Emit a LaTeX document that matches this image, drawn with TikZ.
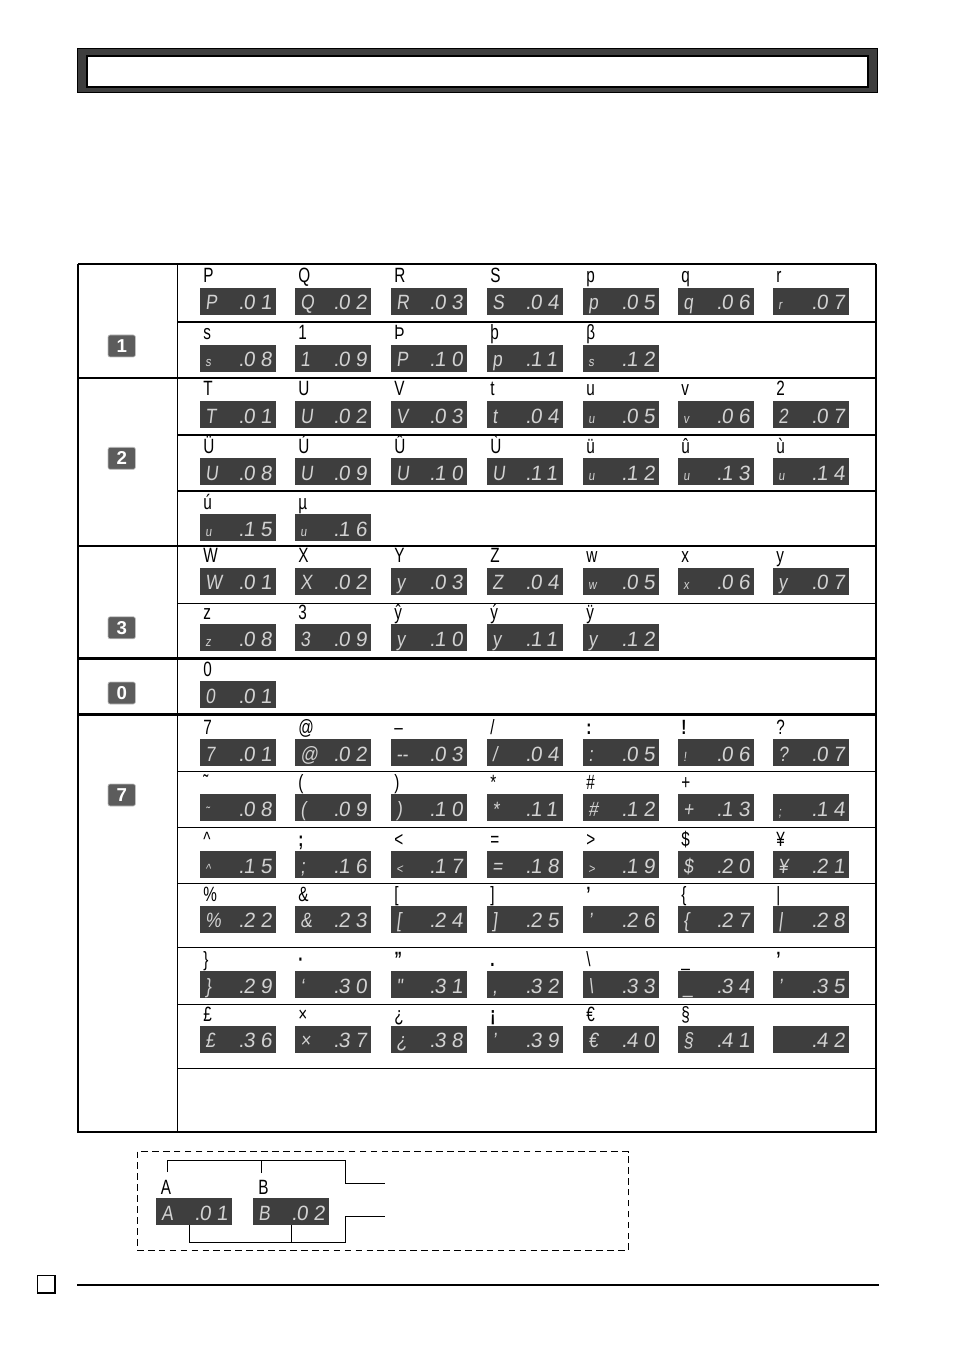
\documentclass[tikz,border=0pt]{standalone}
\usepackage{fontspec}
\setmainfont{Liberation Sans}
\newfontfamily\labf[FakeStretch=0.74]{Liberation Sans}
\newfontfamily\ledf[FakeSlant=0.12,LetterSpace=27]{Liberation Sans}
\newfontfamily\ledg[FakeSlant=0.12,FakeStretch=0.85]{Liberation Sans}
\definecolor{panel}{HTML}{3E3E3E}
\definecolor{ledtxt}{HTML}{D2D2D2}
\definecolor{keyfill}{HTML}{5C5C5C}
\tikzset{
  ledbox/.style={fill=panel,draw=none,anchor=north west,inner sep=0pt,minimum width=57pt,minimum height=20.25pt},
  lab/.style={anchor=base west,inner sep=0pt,font=\labf\fontsize{15.5pt}{15.5pt}\selectfont,text=black},
  ledc/.style={anchor=base west,inner sep=0pt,font=\ledg\fontsize{15.5pt}{15.5pt}\selectfont,text=ledtxt},
  ledn/.style={anchor=base west,inner sep=0pt,font=\ledf\fontsize{15.5pt}{15.5pt}\selectfont,text=ledtxt},
  keycap/.style={fill=keyfill,draw=black!25,line width=0.5pt,rounded corners=1.5pt,anchor=center,inner sep=0pt,
    minimum width=20.5pt,minimum height=16.5pt,text=white,font=\bfseries\fontsize{14pt}{14pt}\selectfont},
  thin rule/.style={line width=0.8pt,draw=black},
  thick rule/.style={line width=1.7pt,draw=black},
  conn/.style={line width=0.7pt,draw=black}
}
\newcommand\smc[1]{{\fontsize{10pt}{10pt}\selectfont #1}}
\newcommand\bfl[1]{{\bfseries #1}}
\newcommand\ledb[4]{% name, x, disp, num
  \node[ledbox] (#1) at (#2,\ry) {};
  \node[ledc] (#1c) at ({#2+5},{\ry+22}) {#3};
  \node[ledn] (#1n) at ({#2+38},{\ry+22}) {.\kern-0.5pt #4};
}
\newcommand\cell[5]{% name, x, label, disp, num
  \ledb{#1}{#2}{#4}{#5}
  \node[lab] (#1l) at ({#2+3},\rb) {#3};
}
\def\xa{200}\def\xb{295}\def\xc{391}\def\xd{487}\def\xe{583}\def\xf{678}\def\xg{773}
\begin{document}
\begin{tikzpicture}[x=0.75pt,y=-0.75pt]
\useasboundingbox (0,0) rectangle (954,1351);
% header band
\fill[panel,draw=black,line width=0.8pt] (77.5,48.5) rectangle (877.5,92.5);
\fill[white,draw=black,line width=1.5pt] (87,56) rectangle (868,87);
% table rules
\foreach \yy in {322,378,435,491,546,603.5,771.5,827.5,883.5,947.5,1004.5,1068.5}
  \draw[thin rule] (177.7,\yy) -- (876,\yy);
\foreach \yy in {378,546} \draw[thin rule] (78,\yy) -- (177.7,\yy);
\foreach \yy in {658.5,714.5} \draw[thick rule] (78,\yy) -- (876,\yy);
\draw[thin rule] (177.7,264) -- (177.7,1132);
\draw[thin rule] (78,264) -- (876,264);
\draw[thick rule] (78,264) -- (78,1132.5);
\draw[thick rule] (876,264) -- (876,1132.5);
\draw[line width=2pt] (77,1132) -- (877,1132);
% keys
\node[keycap] (k1) at (121.7,346) {1};
\node[keycap] (k2) at (121.7,458.3) {2};
\node[keycap] (k3) at (121.7,627.8) {3};
\node[keycap] (k0) at (121.7,693) {0};
\node[keycap] (k7) at (121.7,795) {7};
% row 1
\def\ry{288}\def\rb{283}
\cell{aa}{\xa}{P}{P}{01}\cell{ab}{\xb}{Q}{Q}{02}\cell{ac}{\xc}{R}{R}{03}\cell{ad}{\xd}{S}{S}{04}
\cell{ae}{\xe}{p}{p}{05}\cell{af}{\xf}{q}{q}{06}\cell{ag}{\xg}{r}{\smc{r}}{07}
\def\ry{345}\def\rb{340}
\cell{ba}{\xa}{s}{\smc{s}}{08}\cell{bb}{\xb}{1}{1}{09}\cell{bc}{\xc}{Þ}{P}{10}\cell{bd}{\xd}{þ}{p}{11}
\cell{be}{\xe}{β}{\smc{s}}{12}
% row 2
\def\ry{401}\def\rb{396}
\cell{ca}{\xa}{T}{T}{01}\cell{cb}{\xb}{U}{U}{02}\cell{cc}{\xc}{V}{V}{03}\cell{cd}{\xd}{t}{t}{04}
\cell{ce}{\xe}{u}{\smc{u}}{05}\cell{cf}{\xf}{v}{\smc{v}}{06}\cell{cg}{\xg}{2}{2}{07}
\def\ry{458}\def\rb{453}
\cell{da}{\xa}{Ü}{U}{08}\cell{db}{\xb}{Ú}{U}{09}\cell{dc}{\xc}{Û}{U}{10}\cell{dd}{\xd}{Ù}{U}{11}
\cell{de}{\xe}{ü}{\smc{u}}{12}\cell{df}{\xf}{û}{\smc{u}}{13}\cell{dg}{\xg}{ù}{\smc{u}}{14}
\def\ry{514}\def\rb{509}
\cell{ea}{\xa}{ú}{\smc{u}}{15}\cell{eb}{\xb}{µ}{\smc{u}}{16}
% row 3
\def\ry{567.5}\def\rb{562.5}
\cell{fa}{\xa}{W}{W}{01}\cell{fb}{\xb}{X}{X}{02}\cell{fc}{\xc}{Y}{y}{03}\cell{fd}{\xd}{Z}{Z}{04}
\cell{fe}{\xe}{w}{\smc{w}}{05}\cell{ff}{\xf}{x}{\smc{x}}{06}\cell{fg}{\xg}{y}{y}{07}
\def\ry{624}\def\rb{619}
\cell{ga}{\xa}{z}{\smc{z}}{08}\cell{gb}{\xb}{3}{3}{09}\cell{gc}{\xc}{ŷ}{y}{10}\cell{gd}{\xd}{ý}{y}{11}
\cell{ge}{\xe}{ÿ}{y}{12}
% row 0
\def\ry{681}\def\rb{676}
\cell{ha}{\xa}{0}{0}{01}
% row 7
\def\ry{739}\def\rb{734}
\cell{ia}{\xa}{7}{7}{01}\cell{ib}{\xb}{@}{@}{02}\cell{ic}{\xc}{–}{--}{03}\cell{id}{\xd}{/}{/}{04}
\cell{ie}{\xe}{\bfl{:}}{:}{05}\cell{if}{\xf}{\bfl{!}}{\smc{!}}{06}\cell{ig}{\xg}{?}{?}{07}
\def\ry{794}\def\rb{789}
\cell{ja}{\xa}{˜}{\smc{˜}}{08}\cell{jb}{\xb}{(}{(}{09}\cell{jc}{\xc}{)}{)}{10}\cell{jd}{\xd}{*}{*}{11}
\cell{je}{\xe}{\#}{\#}{12}\cell{jf}{\xf}{+}{+}{13}\ledb{jg}{\xg}{\smc{;}}{14}
\def\ry{851}\def\rb{846}
\cell{ka}{\xa}{\textasciicircum}{\smc{\textasciicircum}}{15}\cell{kb}{\xb}{\bfl{;}}{;}{16}\cell{kc}{\xc}{<}{\smc{<}}{17}\cell{kd}{\xd}{=}{=}{18}
\cell{ke}{\xe}{>}{\smc{>}}{19}\cell{kf}{\xf}{\$}{\$}{20}\cell{kg}{\xg}{¥}{¥}{21}
\def\ry{905.5}\def\rb{901}
\cell{la}{\xa}{\%}{\%}{22}\cell{lb}{\xb}{\&}{\&}{23}\cell{lc}{\xc}{[}{[}{24}\cell{ld}{\xd}{]}{]}{25}
\cell{le}{\xe}{\bfl{’}}{’}{26}\cell{lf}{\xf}{\{}{\{}{27}\cell{lg}{\xg}{|}{|}{28}
\def\ry{971}\def\rb{966}
\cell{ma}{\xa}{\}}{\}}{29}\cell{mb}{\xb}{\bfl{·}}{‘}{30}\cell{mc}{\xc}{\bfl{”}}{"}{31}\cell{md}{\xd}{\bfl{.}}{,}{32}
\cell{me}{\xe}{\textbackslash}{\textbackslash}{33}\cell{mf}{\xf}{\_}{\_}{34}\cell{mg}{\xg}{\bfl{’}}{’}{35}
\def\ry{1025.5}\def\rb{1021}
\cell{na}{\xa}{£}{£}{36}\cell{nb}{\xb}{×}{×}{37}\cell{nc}{\xc}{¿}{¿}{38}\cell{nd}{\xd}{\bfl{¡}}{’}{39}
\cell{ne}{\xe}{€}{€}{40}\cell{nf}{\xf}{§}{§}{41}
\node[ledbox] (ng) at (\xg,\ry) {};
\node[ledn] (ngn) at ({\xg+38},{\ry+22}) {.\kern-0.5pt 42};
% legend
\draw[line width=0.7pt,dash pattern=on 5pt off 3.2pt] (137.5,1151.5) rectangle (628.5,1250.5);
\def\ry{1198}\def\rb{1194.5}
\ledb{ex}{156}{A}{01}
\node[lab] (exl) at (160.5,\rb) {A};
\ledb{ey}{253}{B}{02}
\node[lab] (eyl) at (258,\rb) {B};
\coordinate (ta) at (167,1172);
\coordinate (tb) at (261,1173);
\coordinate (tj) at (345,1160);
\coordinate (te) at (385,1183);
\coordinate (ba) at (189,1225);
\coordinate (bb) at (291,1225);
\coordinate (bj) at (345,1242);
\coordinate (be) at (385,1216);
\draw[conn] (ta) |- (tj) |- (te);
\draw[conn] (tb) -- (tb |- tj);
\draw[conn] (ba) |- (bj) |- (be);
\draw[conn] (bb) -- (bb |- bj);
% footer
\draw[line width=0.8pt] (37.5,1275.5) rectangle (55,1293);
\draw[line width=0.8pt] (77,1285) -- (879,1285);
\end{tikzpicture}
\end{document}
